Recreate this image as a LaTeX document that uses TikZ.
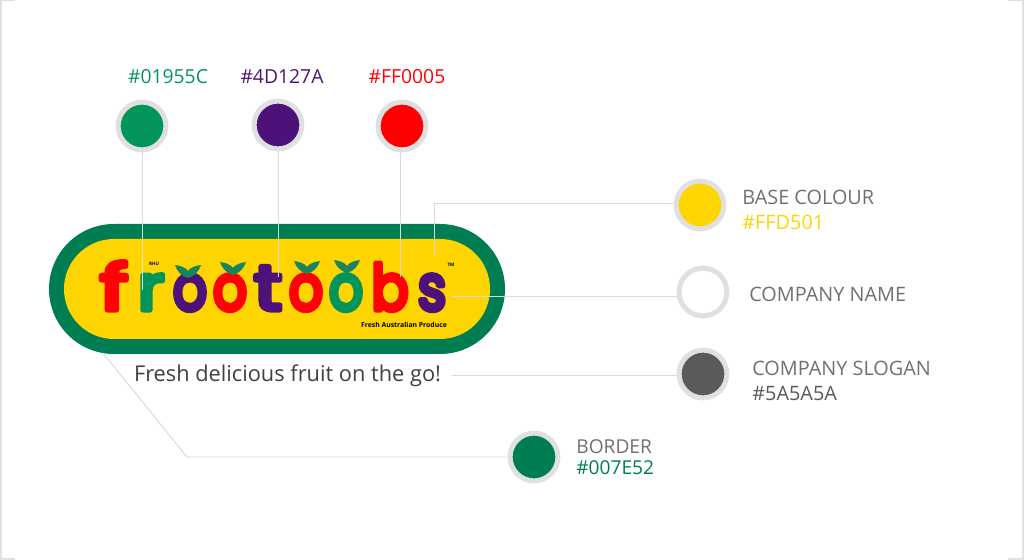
\documentclass[tikz,border=0pt]{standalone}
\usepackage{fontspec}
\setmainfont{Open Sans}
\newfontfamily\logofont{Poppins}
\usetikzlibrary{positioning}
\definecolor{ringgray}{HTML}{E0E0E0}
\definecolor{linegray}{HTML}{DADADA}
\definecolor{labelgray}{HTML}{707070}
\definecolor{appleg}{HTML}{01955C}
\definecolor{grapep}{HTML}{4D127A}
\definecolor{cherryr}{HTML}{FF0005}
\definecolor{basey}{HTML}{FFD501}
\definecolor{slogang}{HTML}{5A5A5A}
\definecolor{borderg}{HTML}{007E52}
\newcommand{\softglyph}[1]{\special{pdf:code 1 j 1 J 3 w 2 Tr}#1\special{pdf:code 0 j 0 J 1 w 0 Tr}}
\tikzset{
  swatch/.style={circle,draw=ringgray,line width=2.85pt,minimum size=27.2pt,inner sep=0pt},
  guide/.style={draw=linegray,line width=0.55pt},
  hexlabel/.style={font=\fontsize{11pt}{12pt}\selectfont,inner sep=0pt},
  sidelabel/.style={font=\fontsize{11.3pt}{14.2pt}\selectfont,inner sep=0pt,align=left,text=labelgray,anchor=west},
  letter/.style={font=\logofont\fontsize{36pt}{36pt}\selectfont,inner sep=0pt,anchor=base,transform shape,text=#1},
  leaf/.style={fill=appleg!80!black!90!white}
}
\begin{document}
\begin{tikzpicture}[x=0.02cm,y=-0.02cm]
\useasboundingbox (0,0) rectangle (1024,560);
% outer frame
\draw[ringgray,line width=1.13pt] (15,0.5) -- (1,0.5) -- (1,559) -- (15,559);
\draw[ringgray,line width=1.13pt] (1008,0.5) -- (1023,0.5) -- (1023,559) -- (1008,559);

% logo
\fill[borderg,rounded corners=1.3cm] (49,224) rectangle (505,354);
\fill[basey,rounded corners=1cm] (64,239) rectangle (490,339);

% logo letters
\foreach \ch/\px/\sx/\col in {f/114/1.33/cherryr,r/151/1.12/appleg,o/190/.84/grapep,o/230/.84/cherryr,t/268/1.2/grapep,o/306/.84/cherryr,o/346/.84/appleg,b/390/.87/cherryr,s/432/.86/grapep}
  \node[letter=\col,xscale=\sx] (letter\px) at (\px,310) {\softglyph{\ch}};
\foreach \px/\py in {188/265,233/262,307/261,347/260}
  \fill[leaf] (\px,\py+13) .. controls (\px-7,\py+11) and (\px-11,\py+6) .. (\px-13,\py)
    .. controls (\px-7,\py+1) and (\px-3,\py+2) .. (\px,\py+6)
    .. controls (\px+3,\py+2) and (\px+7,\py+1) .. (\px+13,\py)
    .. controls (\px+11,\py+6) and (\px+7,\py+11) .. (\px,\py+13) -- cycle;
\node[font=\fontsize{2.6pt}{3pt}\bfseries\selectfont,inner sep=0pt] (rhu) at (154,264) {RHU};
\node[font=\fontsize{2.6pt}{3pt}\bfseries\selectfont,inner sep=0pt] (tmark) at (451,265) {TM};
\node[font=\fontsize{3.9pt}{4pt}\bfseries\selectfont,inner sep=0pt] (produce) at (404,325) {Fresh Australian Produce};

% slogan
\node[font=\fontsize{12.4pt}{14pt}\selectfont,text=black!75,inner sep=0pt] (slogan) at (287.5,376) {Fresh delicious fruit on the go!};

% top swatches
\node[swatch,fill=appleg] (green) at (142,126) {};
\node[swatch,fill=grapep] (purple) at (278,125) {};
\node[swatch,fill=red] (red) at (402,126) {};
\node[hexlabel,text=appleg] (greenhex) at (168,77) {\#01955C};
\node[hexlabel,text=grapep] (purplehex) at (282,77) {\#4D127A};
\node[hexlabel,text=cherryr] (redhex) at (407,77) {\#FF0005};

% side swatches
\node[swatch,fill=basey] (base) at (700,205) {};
\node[swatch,fill=white] (name) at (703,292) {};
\node[swatch,fill=slogang] (grey) at (703,374) {};
\node[swatch,fill=borderg] (border) at (534,457) {};
\node[sidelabel] (baselabel) at (742,209.5) {BASE COLOUR\\\textcolor{basey}{\#FFD501}};
\node[sidelabel] (namelabel) at (749,294) {COMPANY NAME};
\node[sidelabel] (greylabel) at (752,380.5) {COMPANY SLOGAN\\\textcolor{slogang}{\#5A5A5A}};
\node[sidelabel,font=\fontsize{10.9pt}{11.9pt}\selectfont] (borderlabel) at (576,457) {BORDER\\\textcolor{borderg}{\#007E52}};

% guide lines
\coordinate (greenend) at (142,290);
\coordinate (purpleend) at (278,277);
\coordinate (redend) at (400,277);
\coordinate (baseend) at (434,257);
\coordinate (basebend) at (434,203);
\coordinate (nameend) at (452,296);
\coordinate (sloganend) at (452,375);
\coordinate (borderend) at (103,353);
\coordinate (borderbend) at (187,457);
\draw[guide] (green) -- (greenend);
\draw[guide] (purple) -- (purpleend);
\draw[guide] (red.south -| redend) -- (redend);
\draw[guide] (baseend) -- (basebend) -- (base.west |- basebend);
\draw[guide] (nameend) -- (name.west |- nameend);
\draw[guide] (sloganend) -- (grey.west |- sloganend);
\draw[guide] (borderend) -- (borderbend) -- (border);
\end{tikzpicture}
\end{document}
